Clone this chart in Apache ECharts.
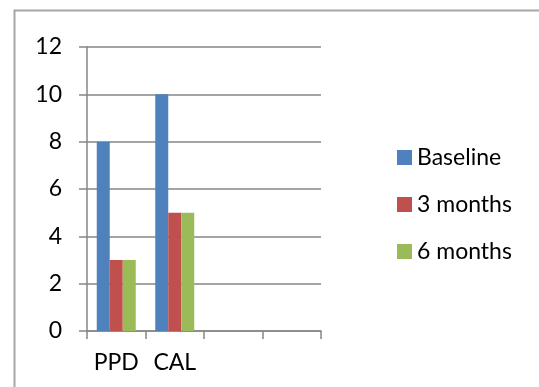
<!DOCTYPE html>
<html>
<head>
<meta charset="utf-8">
<script src="https://cdn.jsdelivr.net/npm/echarts@6/dist/echarts.min.js"></script>
<style>html,body{margin:0;padding:0;background:#fff;}#c{width:539px;height:387px;}</style>
</head>
<body>
<div id="c"></div>
<script>
var categories = ['PPD', 'CAL', '', ''];
var seriesNames = ['Baseline', '3 months', '6 months'];
var baseline = [8, 10, null, null];
var months3 = [3, 5, null, null];
var months6 = [3, 5, null, null];
var yTicks = [0, 2, 4, 6, 8, 10, 12];
var colors = ['#4F81BD', '#C0504D', '#9BBB59'];

var FONT = 'Lato';
var chart = echarts.init(document.getElementById('c'), null, {renderer: 'canvas'});
var values = [baseline, months3, months6];
chart.setOption({
  animation: false,
  backgroundColor: '#ffffff',
  textStyle: {fontFamily: FONT},
  graphic: [{
    type: 'polyline',
    shape: {points: [[14.5, 400], [14.5, 10.5], [545, 10.5]]},
    style: {stroke: '#a6a6a6', lineWidth: 2, fill: null},
    silent: true
  }],
  grid: {left: 87, right: 218, top: 47, bottom: 56},
  legend: {
    orient: 'vertical',
    left: 397,
    top: 146,
    padding: 0,
    icon: 'rect',
    itemWidth: 15,
    itemHeight: 15,
    itemGap: 24,
    textStyle: {fontFamily: FONT, fontSize: 23, color: '#000', lineHeight: 23},
    data: seriesNames
  },
  xAxis: {
    type: 'category',
    data: categories,
    boundaryGap: true,
    axisLine: {lineStyle: {color: '#868686', width: 1.5}},
    axisTick: {show: true, length: 8, lineStyle: {color: '#868686', width: 1.5}},
    axisLabel: {fontFamily: FONT, fontSize: 23, color: '#000', margin: 20, interval: 0}
  },
  yAxis: {
    type: 'value',
    min: yTicks[0],
    max: yTicks[yTicks.length - 1],
    interval: yTicks[1] - yTicks[0],
    axisLine: {show: true, lineStyle: {color: '#868686', width: 1.5}},
    axisTick: {show: true, length: 8, lineStyle: {color: '#868686', width: 1.5}},
    splitLine: {show: true, lineStyle: {color: '#868686', width: 1.5}},
    axisLabel: {fontFamily: FONT, fontSize: 23, color: '#000', margin: 25}
  },
  series: seriesNames.map(function (n, i) {
    return {
      name: n,
      type: 'bar',
      data: values[i],
      barWidth: 13,
      barGap: '0%',
      itemStyle: {color: colors[i]}
    };
  })
});
</script>
</body>
</html>
